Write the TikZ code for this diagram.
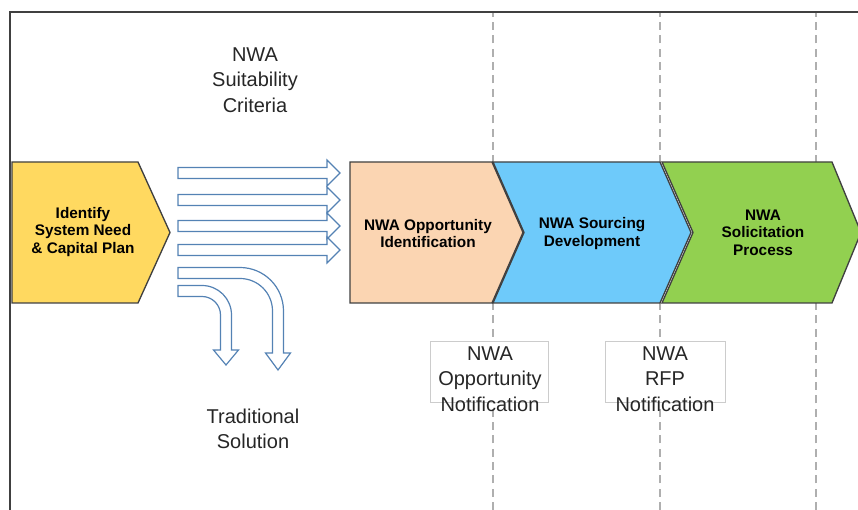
\documentclass[tikz,border=0pt]{standalone}
\usepackage{fontspec}
\setmainfont{Liberation Sans}
\usetikzlibrary{positioning}
\definecolor{needyel}{RGB}{255,217,96}
\definecolor{oppor}{RGB}{251,213,178}
\definecolor{srcblue}{RGB}{110,202,250}
\definecolor{solgreen}{RGB}{146,208,80}
\definecolor{edge}{RGB}{64,64,64}
\definecolor{flow}{RGB}{84,130,180}
\definecolor{guide}{RGB}{175,175,175}

\begin{document}
\begin{tikzpicture}[
  x=0.75pt, y=0.75pt,
  chev/.style={draw=edge, line width=1pt, line join=miter},
  ctext/.style={align=center, font=\fontsize{11.5}{13}\selectfont\bfseries},
  note/.style={align=center, font=\fontsize{15}{19}\selectfont, text=black!85},
  flowarr/.style={draw=flow, line width=0.9pt, fill=white, line join=miter},
  notebox/.style={draw=black!20, fill=white, minimum height=45.75pt, inner sep=0pt},
]
\useasboundingbox (0,0) rectangle (858,510);

% ---------- frame and milestone guides ----------
\foreach \gx in {493,660,816}{\draw[guide, dashed, dash pattern=on 6pt off 4pt, line width=0.8pt] (\gx,0) -- (\gx,497);}
\draw[edge, line width=1.2pt] (10,0) -- (10,498) -- (858,498);

% ---------- process chevrons ----------
\draw[chev, fill=needyel] (12,348) -- (138,348) -- (170,277.5) -- (138,207) -- (12,207) -- cycle;
\draw[chev, fill=solgreen] (662,348) -- (832,348) -- (861,277.5) -- (832,207) -- (662,207) -- (693,277.5) -- cycle;
\draw[chev, fill=srcblue] (493,348) -- (660,348) -- (691,277.5) -- (660,207) -- (493,207) -- (524,277.5) -- cycle;
\draw[chev, fill=oppor] (350,348) -- (492,348) -- (523,277.5) -- (492,207) -- (350,207) -- cycle;

\node[ctext] (need)     at (83,278)    {Identify\\System Need\\\& Capital Plan};
\node[ctext] (oppid)    at (428,276.5) {NWA Opportunity\\Identification};
\node[ctext] (sourcing) at (592,276.5) {NWA Sourcing\\Development};
\node[ctext] (solicit)  at (763,277.5) {NWA\\Solicitation\\Process};

% ---------- screening arrows ----------
\foreach \yc in {337,310,284,260}{
  \draw[flowarr] (178,\yc+5.5) -- (327,\yc+5.5) -- (327,\yc+13) -- (340,\yc) -- (327,\yc-13)
    -- (327,\yc-5.5) -- (178,\yc-5.5) -- cycle;}
% arrows that turn down to the traditional solution
\foreach \yc/\xv/\r/\yb/\yt in {237/278/38/157/140, 219/226/24/160/145}{
  \draw[flowarr] (178,\yc+5.5) -- (\xv-\r,\yc+5.5) arc[start angle=90, end angle=0, radius=\r+5.5]
    -- (\xv+5.5,\yb) -- (\xv+12.5,\yb) -- (\xv,\yt) -- (\xv-12.5,\yb) -- (\xv-5.5,\yb)
    -- (\xv-5.5,\yc-\r) arc[start angle=0, end angle=90, radius=\r-5.5] -- (178,\yc-5.5) -- cycle;}

\node[note] (criteria) at (255,430) {NWA\\Suitability\\Criteria};
\node[note] (tradsol)  at (253,81)  {Traditional\\Solution};

% ---------- notifications ----------
\node[notebox, minimum width=88.5pt] (oppbox) at (489,138.5) {};
\node[note] (opptext) at (490,131) {NWA\\Opportunity\\Notification};
\node[notebox, minimum width=90pt] (rfpbox) at (665,138.5) {};
\node[note] (rfptext) at (665,131) {NWA\\RFP\\Notification};

\end{tikzpicture}
\end{document}
